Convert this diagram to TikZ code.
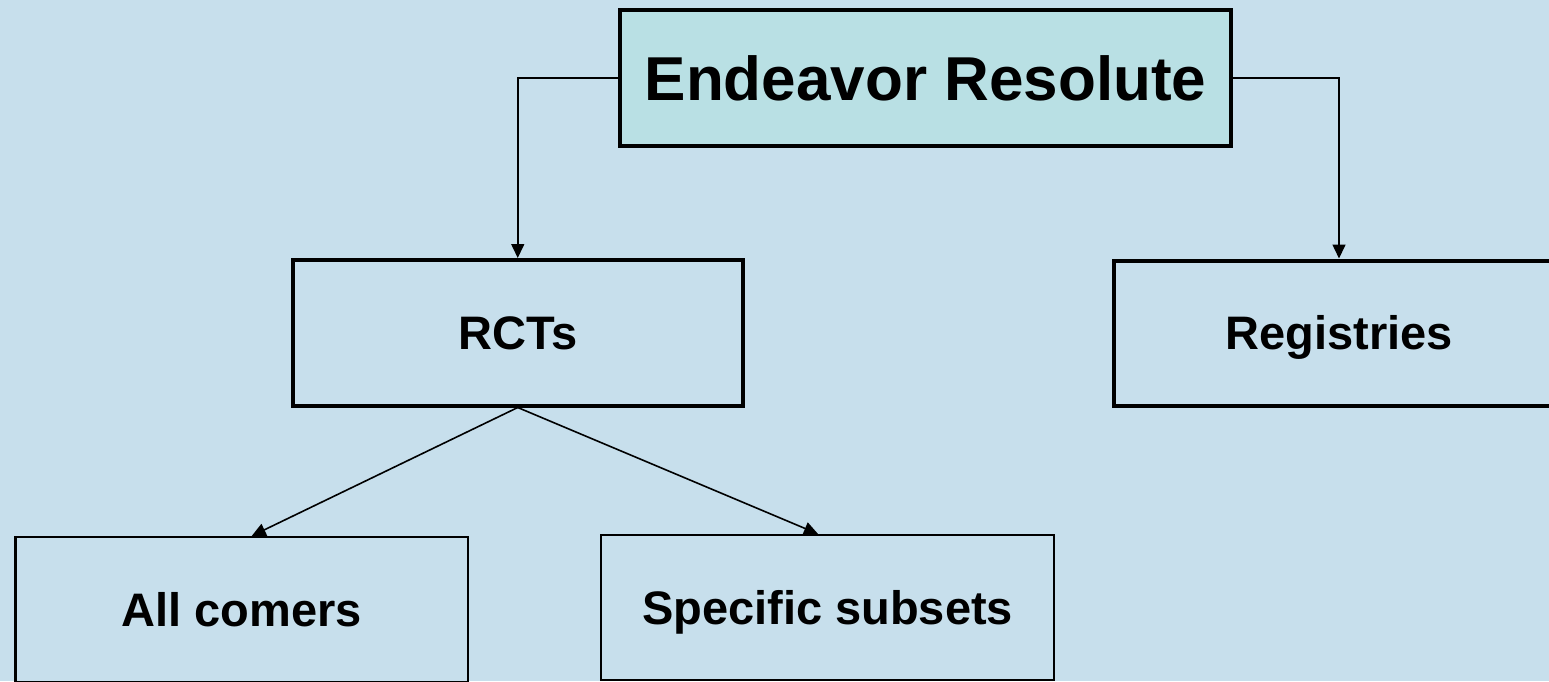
\documentclass[tikz,border=0pt]{standalone}
\usepackage{fontspec}
\setmainfont{Liberation Sans}
\usetikzlibrary{arrows.meta}
\definecolor{bgblue}{RGB}{199,223,236}
\definecolor{topfill}{RGB}{185,224,228}
\tikzset{
  capbox/.style={rectangle, inner sep=0pt, text depth=0pt},
  bigbox/.style={capbox, draw=black, line width=4pt, fill=bgblue, text height=33.6pt,
    font=\bfseries\fontsize{47}{56}\selectfont},
  smallbox/.style={capbox, draw=black, line width=2.2pt, fill=bgblue, text height=33.6pt,
    font=\bfseries\fontsize{47}{56}\selectfont},
  topbox/.style={capbox, draw=black, line width=4pt, fill=topfill, text height=44.4pt,
    font=\bfseries\fontsize{62}{72}\selectfont},
  conn/.style={draw=black, line width=1.6pt, -{Triangle[length=14pt,width=13pt]}}
}
\begin{document}
\begin{tikzpicture}[x=1pt,y=-1pt]
\clip (0,0) rectangle (1549,681);
\fill[bgblue] (0,0) rectangle (1549,681);
\node[topbox, minimum width=611pt, minimum height=136pt] (top) at (925.5,78) {Endeavor Resolute};
\node[bigbox, minimum width=450.5pt, minimum height=145.5pt] (rct) at (517.75,332.75) {RCTs};
\node[bigbox, minimum width=450pt, minimum height=145pt] (reg) at (1339,333) {Registries};
\node[smallbox, minimum width=452.5pt, minimum height=145pt] (allc) at (241.75,609.5) {All comers};
\node[smallbox, minimum width=453pt, minimum height=145pt] (spec) at (827.5,607.5) {Specific subsets};
\draw[conn] (top.west) -| (rct.north);
\draw[conn] (top.east) -| (reg.north);
\draw[conn] (rct.south) -- ([xshift=10pt]allc.north);
\draw[conn] (rct.south) -- ([xshift=-9.5pt]spec.north);
\end{tikzpicture}
\end{document}
